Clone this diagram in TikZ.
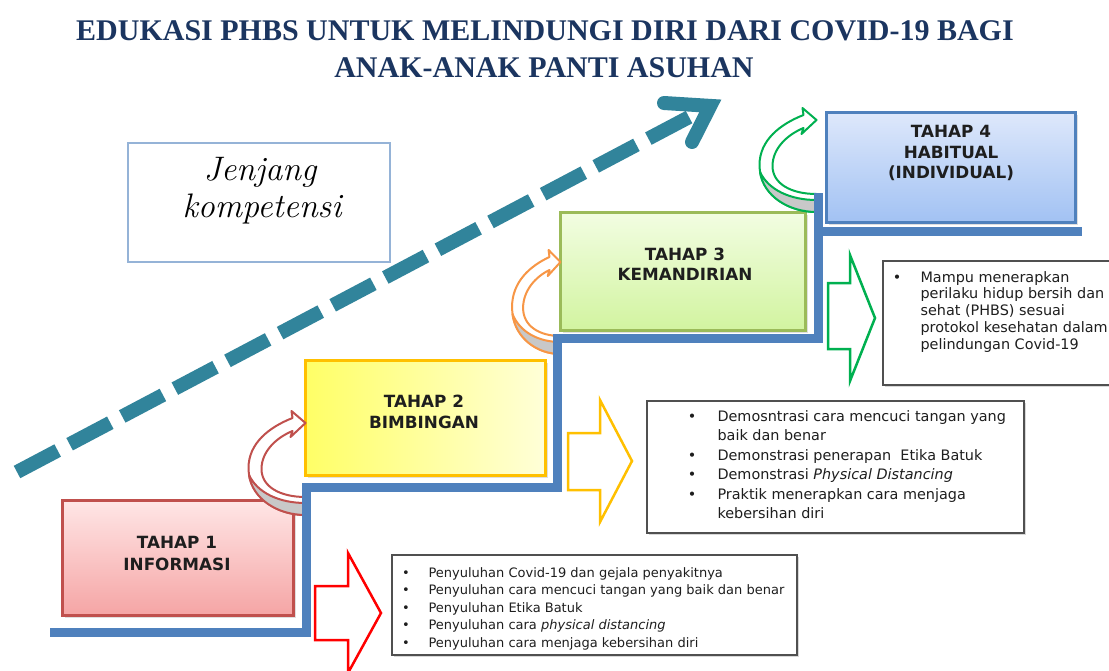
\documentclass[tikz,border=0pt]{standalone}
\usepackage{fontspec}
\newfontfamily\titlefont{Liberation Serif}
\newfontfamily\verd{DejaVu Sans}
\usetikzlibrary{shadows,calc}
\definecolor{navy}{HTML}{1B3560}
\definecolor{dteal}{HTML}{31849B}
\definecolor{stair}{HTML}{4F81BD}
\definecolor{redb}{HTML}{C0504D}
\definecolor{yelb}{HTML}{FFC000}
\definecolor{grnb}{HTML}{9BBB59}
\definecolor{jbox}{HTML}{95B3D7}
\definecolor{arrred}{HTML}{FF0000}
\definecolor{arrgrn}{HTML}{00B050}
\definecolor{curvorg}{HTML}{F79646}
\definecolor{txtc}{HTML}{1E1E1E}
\definecolor{boxline}{HTML}{505050}
\definecolor{tailgray}{HTML}{C8C8C8}
\definecolor{pinktop}{HTML}{FFE6E6}
\definecolor{pinkbot}{HTML}{F5A5A5}
\definecolor{yeltl}{HTML}{FFFF66}
\definecolor{yelbr}{HTML}{FFFFD8}
\definecolor{grntop}{HTML}{F2FDE2}
\definecolor{grnbot}{HTML}{D2F4A0}
\definecolor{blutop}{HTML}{DEE8FB}
\definecolor{blubot}{HTML}{A2C2F3}
\newcommand\curvarrow[3]{%
  \begin{scope}[shift={#1}, xscale=#3]
    \filldraw[fill=white, draw=#2, line width=2pt, line join=round]
      (0,0) -- (-14,-12) -- (-13,-5) .. controls (-36,4) and (-57,20) .. (-57,45)
      .. controls (-57,73) and (-30,92) .. (0,92) -- (0,74)
      .. controls (-25,74) and (-44,64) .. (-44,46)
      .. controls (-44,29) and (-30,15) .. (-13,8) -- (-15,14) -- cycle;
    \filldraw[fill=tailgray, draw=#2, line width=2pt, line join=round]
      (-56.5,52) .. controls (-53,76) and (-28,92) .. (0,92) -- (0,80)
      .. controls (-26,80) and (-48,70) .. (-56.5,52) -- cycle;
  \end{scope}}
\tikzset{
  stagebox/.style={draw, line width=3pt, inner sep=0pt,
    drop shadow={opacity=0.25, shadow xshift=3pt, shadow yshift=-3pt}},
  stagetxt/.style={anchor=base, text=txtc, font=\verd\bfseries\fontsize{16.8}{16.8}\selectfont},
  listbox/.style={draw=boxline, line width=1.6pt, fill=white, inner sep=0pt,
    drop shadow={opacity=0.3, shadow xshift=2pt, shadow yshift=-2pt}},
  blockarrow/.style={fill=white, line width=2.5pt, line join=miter},
  stairline/.style={draw=stair, line width=9pt},
  bul/.style={anchor=base, text=txtc},
  ltxt/.style={anchor=base west, text=txtc},
  jtxt/.style={anchor=base, font=\fontsize{34}{38}\selectfont\itshape},
}
\begin{document}
\begin{tikzpicture}[x=1pt,y=-1pt]
\useasboundingbox (0,0) rectangle (1109,670);
\fill[white] (0,0) rectangle (1109,670);

% title
\node[anchor=base, text=navy, font=\titlefont\bfseries\fontsize{30}{30}\selectfont] (title1) at (545,40) {EDUKASI PHBS UNTUK MELINDUNGI DIRI DARI COVID-19 BAGI};
\node[anchor=base, text=navy, font=\titlefont\bfseries\fontsize{30}{30}\selectfont] (title2) at (544,77) {ANAK-ANAK PANTI ASUHAN};

% Jenjang kompetensi
\node[draw=jbox, line width=1.2pt, minimum width=262pt, minimum height=119pt, inner sep=0pt] (jbox) at (259,202.5) {};
\node[jtxt] (jtxt1) at (260,180) {Jenjang};
\node[jtxt] (jtxt2) at (262,217) {kompetensi};

% dashed arrow
\coordinate (dstart) at (17,472);
\coordinate (dend) at (690,116.6);
\draw[dteal, line width=14pt, dash pattern=on 46pt off 13.5pt] (dstart) -- (dend);
\coordinate (chev1) at (664,103);
\coordinate (chevtip) at (710.3,105.9);
\coordinate (chev2) at (692,142);
\draw[dteal, line width=14pt, line cap=round, line join=miter] (chev1) -- (chevtip) -- (chev2);

% stage boxes
\node[stagebox, draw=redb, top color=pinktop, bottom color=pinkbot, minimum width=231pt, minimum height=115pt] (t1) at (177.5,557.5) {};
\node[stagebox, draw=yelb, shading angle=135, left color=yeltl, right color=yelbr, minimum width=240pt, minimum height=115pt] (t2) at (425,417.5) {};
\node[stagebox, draw=grnb, top color=grntop, bottom color=grnbot, minimum width=245pt, minimum height=118pt] (t3) at (682.5,271) {};
\node[stagebox, draw=stair, top color=blutop, bottom color=blubot, minimum width=249pt, minimum height=110pt] (t4) at (950.5,167) {};

\node[stagetxt] (t1a) at (177,548) {TAHAP 1};
\node[stagetxt] (t1b) at (177,570) {INFORMASI};
\node[stagetxt] (t2a) at (424,407) {TAHAP 2};
\node[stagetxt] (t2b) at (424,428) {BIMBINGAN};
\node[stagetxt] (t3a) at (685,260) {TAHAP 3};
\node[stagetxt] (t3b) at (685,280) {KEMANDIRIAN};
\node[stagetxt] (t4a) at (951,137) {TAHAP 4};
\node[stagetxt] (t4b) at (951,158) {HABITUAL};
\node[stagetxt] (t4c) at (951,178) {(INDIVIDUAL)};

% curved arrows between stages
\curvarrow{($(t2.west)+(2,5.5)$)}{redb}{1}
\curvarrow{($(t3.west)+(2,-9)$)}{curvorg}{0.85}
\curvarrow{($(t4.west)+(-8,-47)$)}{arrgrn}{1}

% stairs
\draw[stairline] (50,632) -- (306,632) -- (306,487) -- (557,487) -- (557,338) -- (818,338) -- (818,193);
\draw[stairline] (818,231) -- (1082,231);

% block arrows
\draw[blockarrow, draw=arrred] (315,586) -- (348,586) -- (348,553) -- (381,613) -- (348,673) -- (348,640) -- (315,640) -- cycle;
\draw[blockarrow, draw=yelb] (568,433) -- (600,433) -- (600,400) -- (632,461) -- (600,522) -- (600,490) -- (568,490) -- cycle;
\draw[blockarrow, draw=arrgrn] (828,283) -- (850,283) -- (850,255) -- (875,318) -- (850,381) -- (850,349) -- (828,349) -- cycle;

% list boxes
\node[listbox, minimum width=405pt, minimum height=100pt] (bx1) at (594.5,605) {};
\node[listbox, minimum width=377pt, minimum height=132pt] (bx2) at (835.5,467) {};
\node[listbox, minimum width=234pt, minimum height=124pt] (bx3) at (1000,323) {};

\begin{scope}[font=\verd\fontsize{13}{13}\selectfont]
\foreach \t [count=\i] in {Penyuluhan Covid-19 dan gejala penyakitnya,
  Penyuluhan cara mencuci tangan yang baik dan benar,
  Penyuluhan Etika Batuk,
  {Penyuluhan cara \textit{physical distancing}},
  Penyuluhan cara menjaga kebersihan diri} {
  \node[bul] (b1bul\i) at (406,577+17.5*\i-17.5) {•};
  \node[ltxt] (b1txt\i) at (425,577+17.5*\i-17.5) {\t};
}
\end{scope}

\begin{scope}[font=\verd\fontsize{14.4}{14.4}\selectfont]
\node[bul] (b2bul1) at (692,421) {•};
\node[ltxt] (b2l1) at (714,421) {Demosntrasi cara mencuci tangan yang};
\node[ltxt] (b2l2) at (714,440.5) {baik dan benar};
\node[bul] (b2bul2) at (692,460) {•};
\node[ltxt] (b2l3) at (714,460) {Demonstrasi penerapan\ \ Etika Batuk};
\node[bul] (b2bul3) at (692,479.5) {•};
\node[ltxt] (b2l4) at (714,479.5) {Demonstrasi \textit{Physical Distancing}};
\node[bul] (b2bul4) at (692,499) {•};
\node[ltxt] (b2l5) at (714,499) {Praktik menerapkan cara menjaga};
\node[ltxt] (b2l6) at (714,518.5) {kebersihan diri};
\end{scope}

\begin{scope}[font=\verd\fontsize{14.4}{14.4}\selectfont]
\node[bul] (b3bul1) at (897,282) {•};
\foreach \t [count=\i] in {Mampu menerapkan, perilaku hidup bersih dan, sehat (PHBS) sesuai, protokol kesehatan dalam, pelindungan Covid-19} {
  \node[ltxt] (b3txt\i) at (917,282+16.9*\i-16.9) {\t};
}
\end{scope}
\end{tikzpicture}
\end{document}
